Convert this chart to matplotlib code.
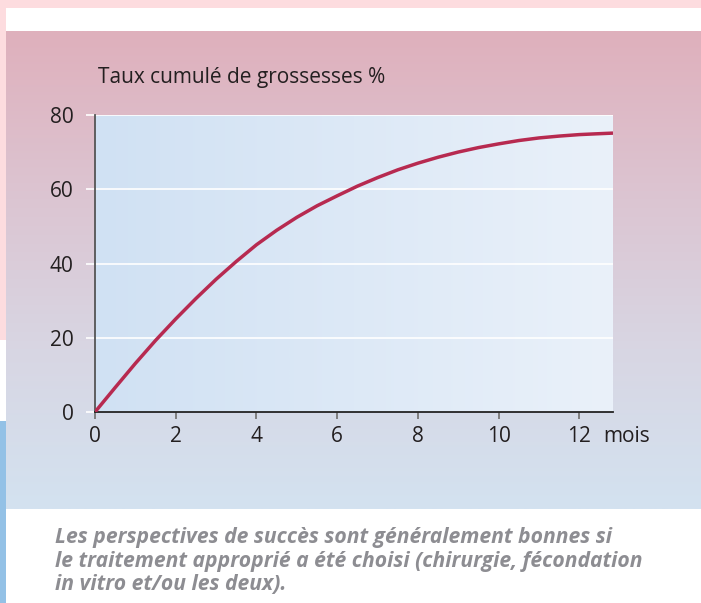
import numpy as np
import matplotlib
matplotlib.use("Agg")
import matplotlib.pyplot as plt
from matplotlib.patches import Rectangle
from matplotlib.colors import LinearSegmentedColormap

# ---- data ----
months = [0, 0.5, 1, 1.5, 2, 2.5, 3, 3.5, 4, 4.5, 5, 5.5, 6, 6.5, 7, 7.5,
          8, 8.5, 9, 9.5, 10, 10.5, 11, 11.5, 12, 12.4, 12.83]
rate = [0, 6.6, 13.1, 19.3, 25.1, 30.6, 35.8, 40.6, 45.1, 49.0, 52.5, 55.6,
        58.3, 60.9, 63.2, 65.3, 67.1, 68.7, 70.1, 71.3, 72.3, 73.2, 73.9,
        74.4, 74.8, 75.0, 75.2]
x_ticks = [0, 2, 4, 6, 8, 10, 12]
y_ticks = [0, 20, 40, 60, 80]
title = "Taux cumulé de grossesses %"
x_unit = "mois"
caption = ["Les perspectives de succès sont généralement bonnes si",
           "le traitement approprié a été choisi (chirurgie, fécondation",
           "in vitro et/ou les deux)."]

W, H = 701, 603
plt.rcParams['font.family'] = ['Open Sans', 'DejaVu Sans']
fig = plt.figure(figsize=(W / 100, H / 100), dpi=100)
fig.patch.set_facecolor('white')

# ---- background in pixel coords ----
bg = fig.add_axes([0, 0, 1, 1], zorder=0)
bg.set_xlim(0, W)
bg.set_ylim(H, 0)
bg.axis('off')
bg.add_patch(Rectangle((0, 0), W, 8, color='#fddcdf', lw=0))
bg.add_patch(Rectangle((0, 0), 6, 340, color='#fddcdf', lw=0))
bg.add_patch(Rectangle((0, 421), 6, H - 421, color='#93c1e6', lw=0))
panel_cmap = LinearSegmentedColormap.from_list(
    'panel', ['#dfb0bc', '#dcc4d1', '#d8d6e3', '#d3e2f0'])
grad = np.linspace(0, 1, 256).reshape(-1, 1)
bg.imshow(grad, cmap=panel_cmap, extent=[6, W, 509, 31], aspect='auto',
          interpolation='bilinear')
bg.set_xlim(0, W)
bg.set_ylim(H, 0)

# ---- main axes ----
L, R, T, B = 95, 613, 115.3, 412
ax = fig.add_axes([L / W, 1 - B / H, (R - L) / W, (B - T) / H], zorder=1)
ax.set_facecolor('none')
plot_cmap = LinearSegmentedColormap.from_list('plot', ['#d0e1f3', '#eaf1fa'])
hgrad = np.linspace(0, 1, 256).reshape(1, -1)
ax.imshow(hgrad, cmap=plot_cmap, extent=[0, 1, 0, 1], transform=ax.transAxes,
          aspect='auto', zorder=0, interpolation='bilinear')

ax.plot(months, rate, color='#b72a50', lw=2.5, solid_capstyle='butt',
        solid_joinstyle='round', zorder=3)
ax.set_xlim(0, 12.83)
ax.set_ylim(0, 80)
ax.set_xticks(x_ticks)
ax.set_yticks(y_ticks)
ax.yaxis.grid(True, color='white', lw=1.2, zorder=1)
ax.set_axisbelow(True)
for s in ['top', 'right']:
    ax.spines[s].set_visible(False)
ax.spines['left'].set_color('#555555')
ax.spines['left'].set_linewidth(1.3)
ax.spines['bottom'].set_color('#222222')
ax.spines['bottom'].set_linewidth(1.3)
ax.tick_params(axis='x', direction='out', length=5, width=1.3, color='#777777',
               labelsize=15, labelcolor='#231f20', pad=5)
ax.tick_params(axis='y', direction='out', length=6.5, width=1.2, color='white',
               labelsize=15, labelcolor='#231f20', pad=9)

fig.text(603 / W, 1 - 437 / H, x_unit, fontsize=15, color='#231f20',
         ha='left', va='center')
fig.text(98 / W, 1 - 83.5 / H, title, fontsize=15, color='#231f20',
         ha='left', va='baseline')
for i, line in enumerate(caption):
    fig.text(55 / W, 1 - (542.5 + 24 * i) / H, line, fontsize=15.2,
             color='#8d8d92', fontweight='bold', fontstyle='italic',
             ha='left', va='baseline')

fig.savefig('out.png', dpi=100)
